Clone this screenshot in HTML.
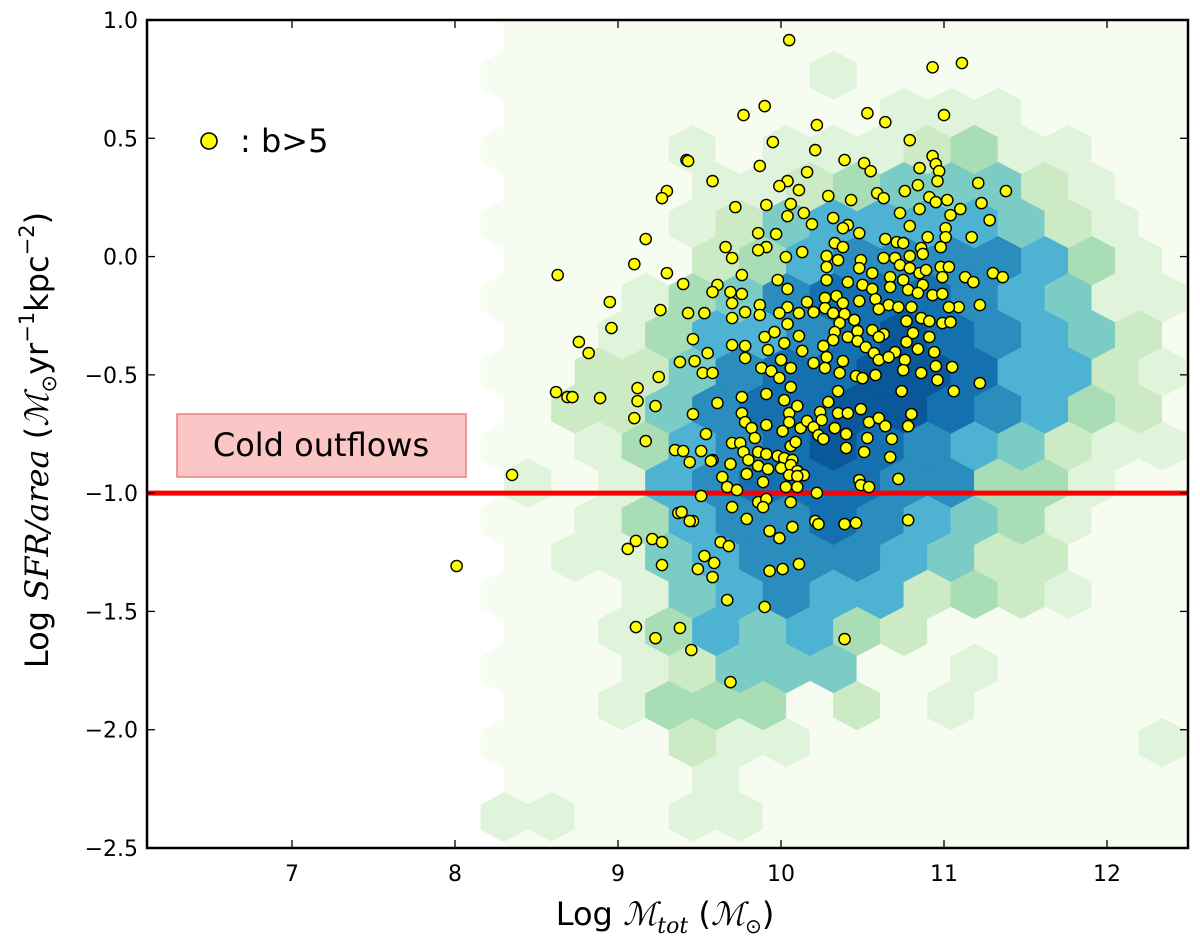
<!DOCTYPE html>
<html>
<head>
<meta charset="utf-8">
<style>
  html, body { margin: 0; padding: 0; background: #ffffff; }
  svg { display: block; }
  .tick-label { font-family: "DejaVu Sans", "Liberation Sans", sans-serif; font-size: 22px; fill: #000; }
  .axis-title { font-family: "DejaVu Sans", "Liberation Sans", sans-serif; font-size: 32px; fill: #000; }
  .math { font-family: "DejaVu Serif", "Liberation Serif", serif; font-style: italic; }
</style>
</head>
<body>
<svg id="chart" width="1200" height="946" viewBox="0 0 1200 946" xmlns="http://www.w3.org/2000/svg">
  <defs>
    <clipPath id="plot-clip"><rect x="147" y="20" width="1041" height="828"/></clipPath>
  </defs>
  <rect x="147" y="20" width="1041" height="828" fill="#ffffff"/>
  <g id="hexes" clip-path="url(#plot-clip)"></g>
  <g id="refline" clip-path="url(#plot-clip)"></g>
  <g id="points" clip-path="url(#plot-clip)"></g>
  <g id="ticks"></g>
  <rect x="147" y="20" width="1041" height="828" fill="none" stroke="#000" stroke-width="2.5"/>

  <g>
    <circle cx="209" cy="141" r="8" fill="#ffff00" stroke="#000" stroke-width="1.6"/>
    <text class="axis-title" x="240" y="152" font-size="32">: b&gt;5</text>
  </g>

  <g>
    <rect x="177" y="414" width="289" height="63" fill="#fbc6c6" stroke="#ef7f7f" stroke-width="1.5"/>
    <text class="axis-title" x="321" y="456" text-anchor="middle" font-size="31">Cold outflows</text>
  </g>

  <text class="axis-title" x="665" y="925" text-anchor="middle">Log <tspan class="math">ℳ</tspan><tspan class="math" font-size="22" dy="8">tot</tspan><tspan dy="-8"> (</tspan><tspan class="math">ℳ</tspan><tspan font-size="20" dy="8">⊙</tspan><tspan dy="-8">)</tspan></text>

  <text class="axis-title" font-size="34" transform="translate(48,440) rotate(-90)" text-anchor="middle">Log <tspan class="math">SFR/area</tspan> (<tspan class="math">ℳ</tspan><tspan font-size="21" dy="8">⊙</tspan><tspan dy="-8">yr</tspan><tspan font-size="21" dy="-14">−1</tspan><tspan dy="14">kpc</tspan><tspan font-size="21" dy="-14">−2</tspan><tspan dy="14">)</tspan></text>
</svg>

<script>
// ---- data ----
const xTicks = [7, 8, 9, 10, 11, 12];
const xTickLabels = ["7", "8", "9", "10", "11", "12"];
const yTicks = [1.0, 0.5, 0.0, -0.5, -1.0, -1.5, -2.0, -2.5];
const yTickLabels = ["1.0", "0.5", "0.0", "\u22120.5", "\u22121.0", "\u22121.5", "\u22122.0", "\u22122.5"];
const thresholdY = -1.0;

// hexbin grid (data units) and density level per cell (0 = empty ... 8 = densest)
const hexOriginX = 8.304;
const hexOriginY = 1.0775;
const hexStepX = 0.2883;
const hexStepY = 0.1567;
const hexLevels = [
  "0000000000000000",
  "0000000000000000",
  "0000000100000000",
  "0000000011100000",
  "0000101112311000",
  "0000112344421000",
  "0000124555542100",
  "0000235666653100",
  "0001346777654110",
  "0013556787654200",
  "0022467788755210",
  "0224677887653200",
  "0013567876542110",
  "1015677766331000",
  "0013566765431000",
  "0114566654220000",
  "0001456552321000",
  "0013545320000000",
  "0001244400100000",
  "0013330201000000",
  "0000211000000010",
  "0000100000000000",
  "1100110000000000",
  "0000000000000000"
];
const levelColors = ["#f7fcf0","#e0f3db","#ccebc5","#a8ddb5","#7bccc4","#4eb3d3","#2b8cbe","#1570b0","#0a5799"];

// scatter points (b > 5)
const pointX = [10.05,10.93,11.11,9.90,9.77,10.53,10.64,11.00,10.22,9.95,10.79,10.21,9.42,9.87,10.39,10.51,10.55,10.16,10.93,10.95,10.97,10.96,10.85,9.58,10.04,9.99,10.11,10.84,10.76,11.21,11.38,10.59,10.63,10.29,10.43,10.91,10.95,11.02,11.23,9.72,9.91,10.06,10.14,10.19,10.04,10.32,10.73,10.85,11.10,11.04,11.28,10.41,10.38,10.48,10.79,11.01,9.86,9.97,10.64,10.71,10.75,10.90,11.01,11.17,10.98,9.66,9.91,9.86,9.70,10.03,10.13,10.33,10.38,10.28,10.35,10.86,10.87,10.79,10.63,10.70,10.49,10.28,10.48,10.56,10.73,10.79,10.85,10.89,10.98,11.03,10.99,11.30,11.36,11.13,11.18,9.76,9.98,10.28,10.41,10.67,10.75,9.61,9.58,9.69,9.76,10.04,10.50,10.56,10.67,10.78,10.87,10.84,10.93,10.99,11.22,11.09,11.03,9.70,9.87,10.04,10.16,10.27,10.34,10.38,10.48,10.58,10.66,10.72,10.80,9.53,9.70,9.78,9.87,9.99,10.11,10.20,10.27,10.32,10.39,10.45,10.60,10.77,10.86,10.91,10.99,11.04,10.04,10.36,10.47,10.56,10.63,10.81,9.46,9.70,9.78,9.90,9.96,10.11,10.33,10.41,10.47,10.60,10.77,10.91,9.92,10.02,10.13,10.26,10.32,10.52,10.57,10.70,10.84,10.94,9.55,9.78,10.00,10.06,10.20,10.28,10.38,10.60,10.66,10.76,10.95,11.05,9.47,9.52,9.58,9.88,9.94,9.99,10.27,10.36,10.46,10.50,10.58,10.75,10.86,10.96,11.22,9.76,9.91,9.61,10.02,10.06,10.29,10.35,10.74,11.06,9.46,9.76,9.78,9.82,9.91,10.05,10.10,10.05,10.01,10.12,10.16,10.20,10.24,10.25,10.23,10.26,10.33,10.35,10.41,10.49,10.54,10.60,10.64,10.78,10.80,10.40,10.53,10.68,10.40,10.51,10.67,9.54,9.70,9.75,9.84,10.06,10.09,9.51,9.58,9.77,9.86,9.91,9.98,10.02,10.07,9.69,9.80,9.86,9.92,10.00,10.06,10.10,10.14,10.05,9.64,9.79,9.89,10.10,9.67,9.73,10.03,10.10,10.22,10.48,10.49,10.54,10.72,9.51,9.86,9.91,9.89,9.70,10.06,9.79,10.21,10.23,10.07,10.39,10.46,10.78,9.46,9.93,9.99,9.63,9.68,9.53,9.59,9.49,9.58,9.93,10.01,10.11,9.67,9.90,9.43,9.30,9.27,9.17,9.10,8.63,9.30,9.40,8.95,8.96,9.26,9.43,8.76,8.82,8.62,8.69,8.72,8.89,9.12,9.12,9.23,9.10,9.25,9.38,9.17,9.35,9.40,9.44,9.57,8.35,9.37,9.39,9.44,9.11,9.21,9.27,9.06,9.27,9.11,9.23,9.38,9.45,10.39,9.69,8.01];
const pointY = [0.915,0.80,0.818,0.636,0.598,0.606,0.568,0.598,0.556,0.484,0.492,0.450,0.408,0.383,0.408,0.395,0.361,0.357,0.425,0.391,0.361,0.319,0.374,0.319,0.319,0.298,0.281,0.302,0.277,0.311,0.277,0.268,0.247,0.256,0.239,0.251,0.230,0.239,0.226,0.209,0.218,0.222,0.184,0.137,0.171,0.163,0.184,0.201,0.201,0.175,0.154,0.133,0.120,0.099,0.129,0.120,0.099,0.095,0.074,0.061,0.057,0.082,0.082,0.082,0.040,0.040,0.040,0.027,-0.006,-0.002,0.019,0.057,0.040,0.002,-0.015,0.036,0.011,0.002,-0.006,-0.006,-0.015,-0.044,-0.049,-0.070,-0.036,-0.049,-0.070,-0.057,-0.044,-0.044,-0.087,-0.070,-0.087,-0.087,-0.108,-0.078,-0.099,-0.099,-0.108,-0.087,-0.099,-0.120,-0.150,-0.150,-0.158,-0.137,-0.120,-0.137,-0.129,-0.141,-0.120,-0.154,-0.163,-0.158,-0.205,-0.214,-0.214,-0.197,-0.205,-0.214,-0.192,-0.175,-0.167,-0.197,-0.188,-0.180,-0.205,-0.214,-0.214,-0.239,-0.260,-0.235,-0.247,-0.239,-0.239,-0.235,-0.218,-0.239,-0.243,-0.268,-0.222,-0.273,-0.260,-0.273,-0.281,-0.277,-0.285,-0.281,-0.315,-0.311,-0.328,-0.323,-0.349,-0.374,-0.378,-0.340,-0.319,-0.336,-0.319,-0.340,-0.357,-0.340,-0.361,-0.340,-0.395,-0.366,-0.399,-0.378,-0.353,-0.383,-0.408,-0.404,-0.391,-0.404,-0.408,-0.429,-0.437,-0.471,-0.450,-0.425,-0.442,-0.437,-0.425,-0.437,-0.463,-0.467,-0.442,-0.492,-0.492,-0.471,-0.484,-0.513,-0.471,-0.492,-0.505,-0.514,-0.501,-0.480,-0.492,-0.522,-0.535,-0.594,-0.581,-0.619,-0.607,-0.552,-0.615,-0.569,-0.569,-0.569,-0.666,-0.662,-0.700,-0.725,-0.712,-0.662,-0.632,-0.700,-0.738,-0.725,-0.695,-0.721,-0.657,-0.691,-0.755,-0.771,-0.725,-0.662,-0.662,-0.645,-0.700,-0.683,-0.717,-0.717,-0.666,-0.750,-0.767,-0.771,-0.809,-0.826,-0.848,-0.750,-0.788,-0.788,-0.767,-0.801,-0.784,-0.822,-0.860,-0.826,-0.826,-0.835,-0.843,-0.852,-0.860,-0.877,-0.860,-0.885,-0.898,-0.894,-0.881,-0.907,-0.924,-0.924,-0.932,-0.919,-0.953,-0.928,-0.974,-0.987,-0.974,-0.974,-0.999,-0.945,-0.966,-0.974,-0.940,-1.012,-1.038,-1.025,-1.059,-1.059,-1.038,-1.109,-1.118,-1.131,-1.143,-1.131,-1.126,-1.114,-1.118,-1.160,-1.190,-1.207,-1.224,-1.266,-1.295,-1.321,-1.355,-1.329,-1.321,-1.300,-1.452,-1.481,0.404,0.277,0.247,0.074,-0.032,-0.078,-0.070,-0.116,-0.192,-0.302,-0.226,-0.239,-0.361,-0.408,-0.573,-0.594,-0.594,-0.598,-0.556,-0.611,-0.632,-0.683,-0.509,-0.446,-0.780,-0.818,-0.822,-0.869,-0.864,-0.923,-1.084,-1.080,-1.118,-1.202,-1.194,-1.207,-1.236,-1.304,-1.566,-1.613,-1.570,-1.663,-1.617,-1.799,-1.308];

// ---- axis functions ----
const PX_LEFT = 147, PX_RIGHT = 1188, PX_TOP = 20, PX_BOTTOM = 848;
const X_MIN = 7 - (292 - PX_LEFT) / 163, X_MAX = 7 + (PX_RIGHT - 292) / 163;
const Y_MIN = -2.5, Y_MAX = 1.0;
function sx(v) { return PX_LEFT + (v - X_MIN) / (X_MAX - X_MIN) * (PX_RIGHT - PX_LEFT); }
function sy(v) { return PX_BOTTOM - (v - Y_MIN) / (Y_MAX - Y_MIN) * (PX_BOTTOM - PX_TOP); }

const NS = "http://www.w3.org/2000/svg";
function mk(tag, attrs, parent) {
  const el = document.createElementNS(NS, tag);
  for (const k in attrs) el.setAttribute(k, attrs[k]);
  parent.appendChild(el);
  return el;
}

// ---- hexbin ----
const hexG = document.getElementById("hexes");
const halfW = (sx(hexOriginX + hexStepX) - sx(hexOriginX)) / 2;
const rowPx = sy(hexOriginY - hexStepY) - sy(hexOriginY);
const halfH = rowPx * 2 / 3;
hexLevels.forEach(function (rowStr, r) {
  const offset = (r % 2 === 1) ? hexStepX / 2 : 0;
  for (let c = 0; c < rowStr.length; c++) {
    const lvl = parseInt(rowStr[c], 10);
    const cx = sx(hexOriginX + offset + c * hexStepX);
    const cy = sy(hexOriginY - r * hexStepY);
    const pts = [
      [cx, cy - halfH], [cx + halfW, cy - halfH / 2], [cx + halfW, cy + halfH / 2],
      [cx, cy + halfH], [cx - halfW, cy + halfH / 2], [cx - halfW, cy - halfH / 2]
    ].map(function (p) { return p[0].toFixed(2) + "," + p[1].toFixed(2); }).join(" ");
    const hex = mk("polygon", { points: pts, fill: levelColors[lvl], stroke: levelColors[lvl], "stroke-width": "0.8" }, hexG);
    
    
  }
});

// ---- threshold line ----
const lineG = document.getElementById("refline");
const redLine = mk("line", { x1: PX_LEFT, x2: PX_RIGHT, y1: sy(thresholdY), y2: sy(thresholdY), stroke: "#ff0000", "stroke-width": "5" }, lineG);



// ---- points ----
const ptG = document.getElementById("points");
for (let i = 0; i < pointX.length; i++) {
  const c = mk("circle", { cx: sx(pointX[i]).toFixed(2), cy: sy(pointY[i]).toFixed(2), r: "5.6", fill: "#ffff00", stroke: "#000", "stroke-width": "1.4" }, ptG);
  
  
}

// ---- ticks ----
const tickG = document.getElementById("ticks");
xTicks.forEach(function (v, i) {
  const x = sx(v);
  const t1 = mk("line", { x1: x, x2: x, y1: PX_BOTTOM, y2: PX_BOTTOM - 8, stroke: "#000", "stroke-width": "1.3" }, tickG);
  
  
  const t2 = mk("line", { x1: x, x2: x, y1: PX_TOP, y2: PX_TOP + 8, stroke: "#000", "stroke-width": "1.3" }, tickG);
  
  
  const lb = mk("text", { x: x, y: 881, "text-anchor": "middle", class: "tick-label" }, tickG);
  lb.textContent = xTickLabels[i];
  
  
});
yTicks.forEach(function (v, i) {
  const y = sy(v);
  const t1 = mk("line", { x1: PX_LEFT, x2: PX_LEFT + 8, y1: y, y2: y, stroke: "#000", "stroke-width": "1.3" }, tickG);
  
  
  const t2 = mk("line", { x1: PX_RIGHT, x2: PX_RIGHT - 8, y1: y, y2: y, stroke: "#000", "stroke-width": "1.3" }, tickG);
  
  
  const lb = mk("text", { x: 138, y: y + 8, "text-anchor": "end", class: "tick-label" }, tickG);
  lb.textContent = yTickLabels[i];
  
  
});
</script>
</body>
</html>
